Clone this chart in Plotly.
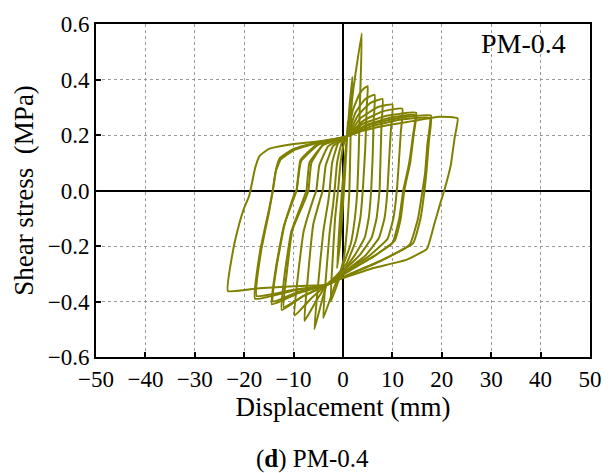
import plotly.graph_objects as go

# Hysteresis cycles (displacement in mm, shear stress in MPa)
c01_x = [0, 0.6, 1.0, 0.7, 0.2, -0.5, -1.2, -0.8, -0.2, 0.4, 0.8]
c01_y = [0, 0.15, 0.25, 0.15, 0.0, -0.17, -0.28, -0.15, 0.0, 0.12, 0.195]

c02_x = [0.8, 1.3, 1.9, 1.6, 1.3, 0.9, 0.2, -1.0, -2.5, -2.1, -1.6, -1.0, -0.5, 0.2, 0.8]
c02_y = [0.195, 0.30, 0.41, 0.25, 0.0, -0.12, -0.24, -0.33, -0.40, -0.25, -0.10, 0.0, 0.10, 0.17, 0.195]

c03_x = [0.8, 2.2, 3.8, 3.4, 3.2, 2.9, 2.4, 1.6, 0.0, -1.8, -4.0, -3.4, -2.7, -2.0, -1.7, -1.2, -0.3, 0.8]
c03_y = [0.195, 0.38, 0.567, 0.30, 0.15, 0.0, -0.10, -0.19, -0.27, -0.35, -0.46, -0.30, -0.15, -0.05, 0.0, 0.10, 0.17, 0.195]

c04_x = [0.8, 2.0, 3.4, 4.4, 5.0, 4.8, 4.5, 4.0, 3.5, 2.6, 0.8, -1.5, -3.3, -4.6, -5.8, -5.1, -4.0, -3.0, -2.7, -2.2, -1.0, 0.8]
c04_y = [0.195, 0.29, 0.35, 0.37, 0.376, 0.30, 0.15, 0.0, -0.10, -0.18, -0.26, -0.31, -0.34, -0.42, -0.50, -0.35, -0.15, -0.04, 0.0, 0.10, 0.17, 0.195]

c05_x = [0.8, 2.5, 4.5, 6.4, 6.2, 6.0, 5.7, 5.2, 4.4, 2.5, 0.0, -3.3, -5.5, -7.8, -7.2, -6.0, -4.6, -4.1, -3.5, -2.0, 0.8]
c05_y = [0.195, 0.28, 0.33, 0.345, 0.25, 0.12, 0.0, -0.10, -0.17, -0.23, -0.29, -0.34, -0.40, -0.47, -0.33, -0.12, -0.03, 0.0, 0.09, 0.16, 0.195]

c06_x = [0.8, 3.0, 5.5, 8.0, 7.8, 7.6, 7.4, 6.8, 5.8, 3.5, 0.0, -3.3, -6.5, -9.8, -9.2, -8.0, -6.0, -5.4, -4.8, -3.0, 0.8]
c06_y = [0.195, 0.27, 0.315, 0.33, 0.24, 0.12, 0.0, -0.10, -0.17, -0.23, -0.29, -0.34, -0.39, -0.45, -0.32, -0.15, -0.03, 0.0, 0.09, 0.16, 0.195]

c07_x = [0.8, 3.5, 7.0, 10.0, 9.7, 9.3, 9.0, 8.4, 7.3, 4.5, 0.5, -3.3, -8.0, -12.4, -11.8, -10.5, -8.0, -7.4, -6.8, -4.0, 0.8]
c07_y = [0.195, 0.26, 0.30, 0.31, 0.22, 0.10, 0.0, -0.10, -0.17, -0.235, -0.29, -0.34, -0.38, -0.43, -0.30, -0.15, -0.03, 0.0, 0.10, 0.165, 0.195]

c07b_x = [0.8, 4.0, 8.0, 12.0, 11.7, 11.3, 10.9, 10.2, 9.0, 5.0, 0.5, -3.3, -8.0, -12.0, -11.4, -10.2, -7.6, -7.0, -6.4, -4.0, 0.8]
c07b_y = [0.195, 0.25, 0.285, 0.295, 0.21, 0.10, 0.0, -0.10, -0.175, -0.24, -0.29, -0.34, -0.38, -0.42, -0.30, -0.14, -0.03, 0.0, 0.10, 0.165, 0.195]

c08_x = [0.8, 4.0, 9.0, 14.8, 14.3, 13.6, 12.4, 11.7, 10.5, 6.0, 1.0, -3.3, -9.0, -14.4, -13.6, -12.0, -10.0, -9.4, -8.6, -5.0, 0.8]
c08_y = [0.195, 0.24, 0.27, 0.28, 0.20, 0.10, 0.0, -0.10, -0.18, -0.24, -0.29, -0.34, -0.37, -0.41, -0.28, -0.13, -0.03, 0.0, 0.11, 0.17, 0.195]

c08b_x = [0.8, 4.5, 9.5, 14.6, 14.1, 13.3, 12.2, 11.4, 10.0, 5.5, 0.8, -3.3, -9.0, -14.2, -13.4, -11.8, -10.0, -9.4, -8.5, -5.0, 0.8]
c08b_y = [0.195, 0.235, 0.262, 0.272, 0.19, 0.09, 0.0, -0.10, -0.19, -0.245, -0.295, -0.34, -0.365, -0.40, -0.27, -0.12, -0.02, 0.0, 0.105, 0.165, 0.195]

c09_x = [0.8, 5.0, 11.0, 17.8, 17.4, 16.9, 16.5, 15.7, 14.2, 8.0, 1.5, -3.3, -10.0, -17.8, -16.8, -15.0, -14.2, -13.5, -12.8, -10.0, -5.0, 0.8]
c09_y = [0.195, 0.235, 0.26, 0.27, 0.18, 0.07, 0.0, -0.10, -0.19, -0.25, -0.30, -0.34, -0.36, -0.39, -0.22, -0.07, 0.0, 0.08, 0.117, 0.15, 0.175, 0.195]

c09b_x = [0.8, 5.5, 11.5, 17.6, 17.1, 16.6, 16.1, 15.2, 13.5, 7.5, 1.0, -3.3, -10.0, -17.5, -16.6, -15.0, -14.4, -13.6, -12.6, -10.0, -5.0, 0.8]
c09b_y = [0.195, 0.23, 0.255, 0.262, 0.17, 0.06, 0.0, -0.10, -0.195, -0.255, -0.305, -0.34, -0.358, -0.38, -0.22, -0.08, -0.02, 0.07, 0.112, 0.145, 0.172, 0.195]

c10_x = [0.8, 4.0, 9.0, 14.0, 19.5, 23.2, 22.6, 21.8, 20.5, 19.8, 18.5, 17.0, 12.8, 6.0, -0.7, -3.3,
         -10.0, -17.0, -23.3, -22.3, -21.0, -20.1, -19.0, -18.5, -17.8, -16.9, -15.0, -11.0, -6.0, -2.0, 0.8]
c10_y = [0.195, 0.215, 0.235, 0.25, 0.266, 0.26, 0.19, 0.09, 0.0, -0.04, -0.12, -0.21, -0.25, -0.28, -0.32, -0.34,
         -0.345, -0.352, -0.362, -0.22, -0.12, -0.067, -0.02, 0.02, 0.08, 0.124, 0.15, 0.165, 0.175, 0.185, 0.195]

cycles = [
    (c01_x, c01_y), (c02_x, c02_y), (c03_x, c03_y), (c04_x, c04_y), (c05_x, c05_y),
    (c06_x, c06_y), (c07_x, c07_y), (c07b_x, c07b_y), (c08_x, c08_y), (c08b_x, c08b_y),
    (c09_x, c09_y), (c09b_x, c09b_y), (c10_x, c10_y),
]

x_ticks = [-50, -40, -30, -20, -10, 0, 10, 20, 30, 40, 50]
y_ticks = [-0.6, -0.4, -0.2, 0.0, 0.2, 0.4, 0.6]
y_tick_text = ["\u22120.6", "\u22120.4", "\u22120.2", "0.0", "0.2", "0.4", "0.6"]
x_tick_text = ["\u221250", "\u221240", "\u221230", "\u221220", "\u221210", "0", "10", "20", "30", "40", "50"]

COLOR = "#808000"
FONT = "Liberation Serif"

fig = go.Figure()
for cx, cy in cycles:
    fig.add_trace(go.Scatter(
        x=cx, y=cy, mode="lines",
        line=dict(color=COLOR, width=2, shape="spline", smoothing=0.35),
        showlegend=False, hoverinfo="skip",
    ))

axis_common = dict(
    showline=True, linecolor="black", linewidth=2, mirror=True,
    ticks="inside", ticklen=5, tickwidth=1.5, tickcolor="black",
    showgrid=True, gridcolor="#9a9a9a", gridwidth=1, griddash="dot",
    zeroline=True, zerolinecolor="black", zerolinewidth=2,
    tickfont=dict(family=FONT, size=23, color="black"),
)

fig.update_xaxes(
    range=[-50, 50], tickvals=x_ticks, ticktext=x_tick_text,
    title=dict(text="Displacement (mm)", font=dict(family=FONT, size=27, color="black"), standoff=6),
    **axis_common,
)
fig.update_yaxes(
    range=[-0.6, 0.6], tickvals=y_ticks, ticktext=y_tick_text,
    title=dict(text="Shear stress\u00a0 (MPa)", font=dict(family=FONT, size=27, color="black"), standoff=6),
    **axis_common,
)

fig.add_annotation(
    x=0.955, y=0.995, xref="paper", yref="paper", xanchor="right", yanchor="top",
    text="PM-0.4", showarrow=False, font=dict(family=FONT, size=28, color="black"),
)
fig.add_annotation(
    x=0.438, y=-0.305, xref="paper", yref="paper", xanchor="center", yanchor="middle",
    text="(<b>d</b>) PM-0.4", showarrow=False, font=dict(family=FONT, size=25, color="black"),
)

fig.update_layout(
    width=614, height=473,
    margin=dict(l=96, r=23, t=19, b=116),
    paper_bgcolor="white", plot_bgcolor="white",
    font=dict(family=FONT, color="black"),
)

fig.write_html("out.html")
